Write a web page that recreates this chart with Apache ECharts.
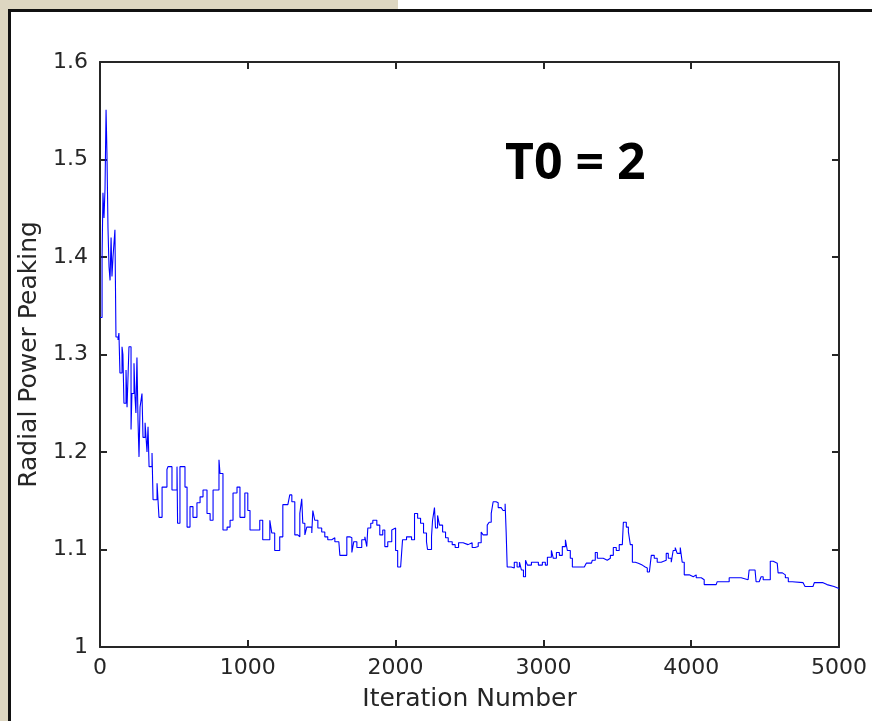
<!DOCTYPE html>
<html>
<head>
<meta charset="utf-8">
<script src="https://cdn.jsdelivr.net/npm/echarts@6/dist/echarts.min.js"></script>
<style>
  html, body { margin: 0; padding: 0; background: #ffffff; }
  #wrap { position: relative; width: 872px; height: 721px; overflow: hidden; background: #ffffff; }
  #beigeLeft { position: absolute; left: 0; top: 0; width: 9px; height: 721px; background: #ddd6c1; }
  #beigeTop { position: absolute; left: 0; top: 0; width: 398px; height: 10px; background: #ddd6c1; }
  #panel { position: absolute; left: 8px; top: 9px; width: 900px; height: 800px; border: 3px solid #111; box-sizing: border-box; background: #fff; }
  #chart { position: absolute; left: 0; top: 0; width: 872px; height: 721px; }
</style>
</head>
<body>
<div id="wrap">
  <div id="beigeLeft"></div>
  <div id="beigeTop"></div>
  <div id="panel"></div>
  <div id="chart"></div>
</div>
<script>
// Iteration number (x) and radial power peaking (y)
const iterations = [
  0, 14, 20, 27, 34, 41, 47, 54, 61, 68, 75, 81, 88, 101, 108, 122, 128, 135, 149, 155,
  162, 176, 183, 196, 210, 216, 230, 237, 243, 250, 257, 264, 271, 284, 291, 305, 318, 325, 332, 352,
  359, 386, 399, 420, 453, 460, 487, 521, 525, 541, 575, 589, 609, 629, 656, 677, 697, 724, 745, 765,
  805, 812, 832, 860, 880, 900, 927, 947, 980, 1000, 1015, 1035, 1081, 1101, 1149, 1162, 1182, 1216,
  1237, 1271, 1284, 1298, 1318, 1338, 1352, 1365, 1372, 1386, 1399, 1433, 1440, 1453, 1474, 1500,
  1521, 1541, 1568, 1589, 1616, 1623, 1656, 1670, 1690, 1704, 1717, 1738, 1771, 1792, 1805, 1812,
  1832, 1846, 1873, 1893, 1913, 1927, 1947, 1974, 1987, 2000, 2014, 2034, 2047, 2074, 2108, 2128,
  2149, 2169, 2189, 2209, 2216, 2243, 2250, 2263, 2270, 2284, 2297, 2318, 2338, 2356, 2383, 2403,
  2426, 2457, 2490, 2518, 2538, 2559, 2579, 2592, 2620, 2633, 2647, 2660, 2680, 2694, 2714, 2727,
  2741, 2748, 2755, 2782, 2803, 2822, 2838, 2851, 2865, 2879, 2892, 2919, 2939, 2966, 2993, 3013,
  3027, 3054, 3067, 3088, 3108, 3128, 3149, 3162, 3182, 3196, 3210, 3277, 3290, 3325, 3331, 3351,
  3365, 3405, 3432, 3453, 3473, 3493, 3513, 3534, 3541, 3561, 3575, 3588, 3602, 3622, 3642, 3669,
  3689, 3703, 3717, 3730, 3750, 3770, 3797, 3831, 3845, 3865, 3878, 3892, 3905, 3926, 3939, 3953,
  3987, 4014, 4034, 4068, 4088, 4169, 4176, 4243, 4257, 4324, 4338, 4385, 4392, 4432, 4439, 4460,
  4473, 4487, 4507, 4535, 4555, 4582, 4588, 4617, 4637, 4657, 4684, 4757, 4770, 4824, 4833, 4892,
  4919, 4932, 4966, 5000
];
const peaking = [
  1.338, 1.400, 1.466, 1.440, 1.470, 1.551, 1.507, 1.430, 1.390, 1.376, 1.420, 1.380, 1.400, 1.428, 1.318, 1.315, 1.322, 1.281, 1.308, 1.300,
  1.250, 1.284, 1.246, 1.308, 1.223, 1.260, 1.291, 1.256, 1.240, 1.297, 1.233, 1.195, 1.246, 1.260, 1.215, 1.230, 1.200, 1.226, 1.185, 1.199,
  1.151, 1.168, 1.133, 1.164, 1.182, 1.185, 1.161, 1.185, 1.127, 1.185, 1.164, 1.123, 1.144, 1.133, 1.148, 1.154, 1.161, 1.137, 1.130, 1.161,
  1.192, 1.178, 1.120, 1.123, 1.130, 1.158, 1.164, 1.133, 1.158, 1.140, 1.120, 1.120, 1.130, 1.110, 1.130, 1.117, 1.099, 1.113,
  1.146, 1.148, 1.156, 1.149, 1.115, 1.113, 1.137, 1.152, 1.127, 1.115, 1.123, 1.117, 1.140, 1.130, 1.122, 1.118,
  1.113, 1.110, 1.112, 1.108, 1.108, 1.094, 1.094, 1.113, 1.112, 1.097, 1.108, 1.102, 1.110, 1.113, 1.103, 1.122,
  1.127, 1.130, 1.125, 1.115, 1.120, 1.103, 1.108, 1.120, 1.122, 1.099, 1.082, 1.082, 1.110, 1.113, 1.110, 1.137,
  1.132, 1.127, 1.117, 1.108, 1.100, 1.113, 1.130, 1.143, 1.122, 1.135, 1.125, 1.118, 1.112, 1.108, 1.105, 1.102,
  1.107, 1.105, 1.107, 1.102, 1.103, 1.107, 1.118, 1.115, 1.125, 1.128, 1.137, 1.149, 1.148, 1.143, 1.144, 1.140,
  1.147, 1.118, 1.082, 1.081, 1.087, 1.082, 1.087, 1.079, 1.072, 1.089, 1.084, 1.087, 1.087, 1.084, 1.087, 1.084,
  1.092, 1.099, 1.091, 1.097, 1.094, 1.103, 1.110, 1.099, 1.091, 1.082, 1.082, 1.082, 1.086, 1.086, 1.089, 1.097,
  1.091, 1.089, 1.091, 1.094, 1.102, 1.099, 1.105, 1.107, 1.128, 1.123, 1.118, 1.105, 1.087, 1.086, 1.084, 1.082,
  1.081, 1.077, 1.076, 1.094, 1.091, 1.087, 1.089, 1.096, 1.091, 1.087, 1.099, 1.102, 1.096, 1.102, 1.087, 1.074,
  1.072, 1.074, 1.071, 1.069, 1.064, 1.064, 1.067, 1.067, 1.071, 1.071, 1.069, 1.069, 1.079, 1.079, 1.067, 1.067,
  1.072, 1.069, 1.069, 1.088, 1.086, 1.086, 1.076, 1.074, 1.071, 1.067, 1.066, 1.066, 1.062, 1.062, 1.066, 1.064,
  1.064, 1.062, 1.060, 1.060
];
const xTicks = { min: 0, max: 5000, interval: 1000 };
const yTicks = { min: 1, max: 1.6, interval: 0.1 };
const xName = 'Iteration Number';
const yName = 'Radial Power Peaking';
const annotation = 'T0 = 2';

const seriesData = iterations.map((x, i) => [x, peaking[i]]);

const chart = echarts.init(document.getElementById('chart'), null, { renderer: 'canvas' });
const axisColor = '#262626';
const labelFont = { color: '#262626', fontFamily: 'DejaVu Sans', fontSize: 22 };
const nameFont = { color: '#262626', fontFamily: 'DejaVu Sans', fontSize: 25 };

chart.setOption({
  backgroundColor: 'transparent',
  animation: false,
  grid: { left: 100, right: 33, top: 62, bottom: 74, containLabel: false },
  xAxis: [
    {
      type: 'value', min: xTicks.min, max: xTicks.max, interval: xTicks.interval,
      name: xName, nameLocation: 'middle', nameGap: 40, nameTextStyle: nameFont,
      axisLine: { show: true, lineStyle: { color: axisColor, width: 2 } },
      axisTick: { show: true, inside: true, length: 7, lineStyle: { color: axisColor, width: 2 } },
      axisLabel: Object.assign({ margin: 10, formatter: v => String(v) }, labelFont),
      splitLine: { show: false }
    },
    {
      type: 'value', position: 'top', min: xTicks.min, max: xTicks.max, interval: xTicks.interval,
      axisLine: { show: true, onZero: false, lineStyle: { color: axisColor, width: 2 } },
      axisTick: { show: true, inside: true, length: 7, lineStyle: { color: axisColor, width: 2 } },
      axisLabel: { show: false },
      splitLine: { show: false }
    }
  ],
  yAxis: [
    {
      type: 'value', min: yTicks.min, max: yTicks.max, interval: yTicks.interval,
      name: yName, nameLocation: 'middle', nameGap: 48, nameTextStyle: nameFont,
      axisLine: { show: true, onZero: false, lineStyle: { color: axisColor, width: 2 } },
      axisTick: { show: true, inside: true, length: 7, lineStyle: { color: axisColor, width: 2 } },
      axisLabel: Object.assign({ margin: 12 }, labelFont),
      splitLine: { show: false }
    },
    {
      type: 'value', position: 'right', min: yTicks.min, max: yTicks.max, interval: yTicks.interval,
      axisLine: { show: true, onZero: false, lineStyle: { color: axisColor, width: 2 } },
      axisTick: { show: true, inside: true, length: 7, lineStyle: { color: axisColor, width: 2 } },
      axisLabel: { show: false },
      splitLine: { show: false }
    }
  ],
  graphic: [
    {
      type: 'text', left: 505, top: 140,
      style: { text: annotation, fill: '#000', font: 'bold 50px "Open Sans"' }
    }
  ],
  series: [
    {
      type: 'line', xAxisIndex: 0, yAxisIndex: 0,
      data: seriesData, step: 'end', showSymbol: false, symbol: 'none',
      lineStyle: { color: '#0000ff', width: 1.1 },
      clip: true
    }
  ]
});
</script>
</body>
</html>
